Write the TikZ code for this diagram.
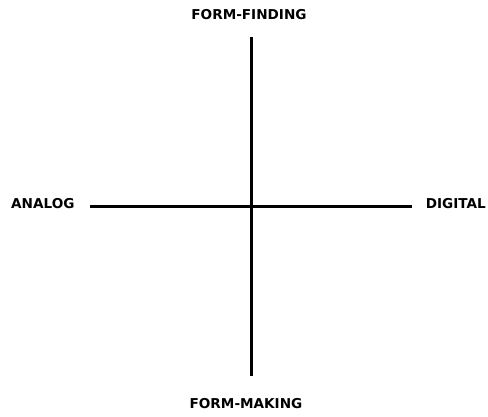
\documentclass[tikz,border=0pt]{standalone}
\usepackage{fontspec}
\setmainfont{DejaVu Sans}
\begin{document}
\begin{tikzpicture}[x=1pt,y=-1pt,
  axis/.style={line width=3pt},
  lbl/.style={font=\fontsize{13.6}{15}\selectfont\bfseries, inner sep=0pt}]
\useasboundingbox (0,0) rectangle (488,416);
\node[lbl] (top) at (249,14.5) {FORM-FINDING};
\node[lbl] (bot) at (246,403.5) {FORM-MAKING};
\node[lbl,anchor=west] (left) at (11,204) {ANALOG};
\node[lbl,anchor=east] (right) at (486,204) {DIGITAL};
\coordinate (t) at (251,37);
\coordinate (b) at (251,376);
\coordinate (l) at (90,206.5);
\coordinate (r) at (412,206.5);
\draw[axis] (t) -- (b);
\draw[axis] (l) -- (r);
\end{tikzpicture}
\end{document}
